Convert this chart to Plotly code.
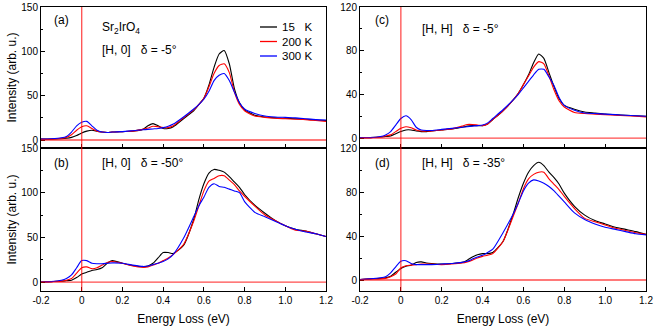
import plotly.graph_objects as go

# energy loss grid (eV), shared by all four panels
energy = [-0.2, -0.15, -0.1, -0.075, -0.05, -0.025, 0, 0.025, 0.05, 0.075,
          0.1, 0.125, 0.15, 0.2, 0.25, 0.3, 0.325, 0.35, 0.375, 0.4, 0.425,
          0.45, 0.5, 0.55, 0.575, 0.6, 0.625, 0.65, 0.675, 0.7, 0.725, 0.75,
          0.775, 0.8, 0.85, 0.9, 0.95, 1.0, 1.05, 1.1, 1.15, 1.2]

temps = ["15   K", "200 K", "300 K"]
colors = ["black", "red", "blue"]

# (a) [H, 0] delta = -5
a_15k = [1, 1, 1.5, 2, 3, 5, 8, 10, 11, 10, 9, 8.5, 9, 9.5, 10, 12, 16, 18.5,
         16, 13, 13, 15, 24, 33, 40, 47, 62, 82, 97, 101, 86, 58, 42, 34, 28,
         26, 25, 24.5, 24, 23.5, 22.5, 22]
a_200k = [1, 1, 2, 3, 6, 11, 15, 16, 13, 10, 9, 8.5, 9, 9.5, 10, 12, 13.5,
          15.5, 15, 14, 14, 16, 25, 34, 40, 47, 60, 75, 84, 86, 76, 54, 40,
          33, 27, 25.5, 24.5, 24, 23.5, 23, 22, 21]
a_300k = [1, 1.5, 2.5, 4, 9, 16, 20, 21, 16, 11, 9, 8.5, 9, 9.5, 10.5, 11.5,
          12, 12.5, 13, 14, 15.5, 18, 26, 35, 40, 46, 55, 67, 73, 75, 67, 54,
          42, 35, 30, 27, 26, 25.5, 25, 24, 23, 22.5]

# (b) [H, 0] delta = -50
b_15k = [0, 0.5, 1, 1.5, 2, 5, 9, 11, 13, 14, 16, 21, 24, 21, 18.5, 17, 18,
         21, 27, 33, 33, 32, 41, 70, 92, 110, 122, 126, 125, 123, 118, 112,
         106, 98, 86, 77, 69, 63, 59, 57, 54, 51]
b_200k = [0, 0.5, 1, 2, 4, 10, 16, 17, 15, 16, 19, 22, 23, 21, 18, 16.5, 17,
          19, 21, 24, 27, 31, 42, 68, 85, 102, 113, 116, 119, 119, 114, 109,
          102, 96, 85, 75, 69, 63, 58, 57, 54, 51]
b_300k = [0, 0.5, 2, 4, 8, 16, 24, 24, 21, 20.5, 20.5, 21, 21.5, 21, 19,
          17.5, 18, 19.5, 21, 23, 26, 31, 49, 73, 85, 95, 106, 110, 107, 106,
          104, 102, 100, 90, 78, 73, 68, 63, 59, 56, 54, 51]

# (c) [H, H] delta = -5
c_15k = [0.5, 0.5, 1, 1.5, 2, 4, 6, 7.5, 7.5, 6.5, 6, 6, 6.5, 7.5, 8.5, 10,
         11, 11.5, 11.5, 11.5, 13, 17, 25, 35, 41, 49, 58, 69, 77, 73, 60,
         47, 36, 30, 26.5, 24, 23, 22, 21.5, 21, 20.5, 20]
c_200k = [0.5, 0.5, 1, 2, 3, 6, 9, 10.5, 9.5, 7.5, 6.5, 6.5, 6.5, 7.5, 8.5,
          11, 12.5, 12.5, 12, 11.5, 13, 17, 25, 35, 41, 49, 57, 65, 70, 68,
          57, 44, 34, 28.5, 23.5, 22.5, 22, 21.5, 21, 20.5, 20, 19.5]
c_300k = [0.5, 0.5, 1.5, 3, 6, 12, 18, 20.5, 17, 10, 7.5, 7, 7, 8, 9, 10,
          10.5, 11, 11.5, 12, 14, 18, 26, 35, 40, 46, 52, 58, 63, 63, 56, 48,
          37, 30, 25.5, 23, 22.5, 22, 21.5, 21, 20.5, 20]

# (d) [H, H] delta = -35
d_15k = [0.5, 1, 1.5, 2, 3.5, 7, 10.5, 12.5, 13.5, 16, 16.5, 15.5, 15, 14.5,
         15, 16, 18, 21, 23, 24, 24, 25, 35, 60, 75, 88, 98, 104, 107, 104,
         98, 93, 87, 79, 67, 59, 54, 51, 48, 46, 44, 41.5]
d_200k = [0.5, 1, 1, 1.5, 3, 5.5, 11, 13, 13.5, 14, 14.5, 14.5, 14.5, 14,
          14.5, 15.5, 16.5, 18, 20, 21.5, 22.5, 24, 35, 58, 70, 83, 92, 96,
          98, 98, 92, 87, 82, 76, 65, 56, 53, 50, 47, 45, 43, 41.5]
d_300k = [0.5, 1, 2, 3, 6.5, 12, 17, 17.5, 15, 14, 14, 14, 14, 14.5, 15, 16,
          17, 19, 21, 22.5, 25, 28, 43, 60, 70, 81, 88, 91, 90, 88, 85, 81,
          76, 71, 61, 55, 51, 48, 46, 44, 42, 41]

panels = [
    ("x", "y", [a_15k, a_200k, a_300k]),
    ("x2", "y2", [b_15k, b_200k, b_300k]),
    ("x3", "y3", [c_15k, c_200k, c_300k]),
    ("x4", "y4", [d_15k, d_200k, d_300k]),
]

FONT = "Liberation Sans"
W, H = 654, 329


def px(x):
    return x / W


def py(y):
    return 1 - y / H


fig = go.Figure()

for xa, ya, series in panels:
    for name, col, vals in zip(temps, colors, series):
        fig.add_trace(go.Scatter(x=energy, y=vals, mode="lines", name=name,
                                 line=dict(color=col, width=1.1,
                                           shape="spline", smoothing=0.6),
                                 xaxis=xa, yaxis=ya, showlegend=False))

# red reference lines at zero energy and zero intensity
for xa, ya in [("x", "y"), ("x2", "y2"), ("x3", "y3"), ("x4", "y4")]:
    fig.add_shape(type="line", xref=xa, yref=ya + " domain", x0=0, x1=0,
                  y0=0, y1=1, line=dict(color="rgba(255,0,0,0.7)", width=1.3))
    fig.add_shape(type="line", xref=xa + " domain", yref=ya, x0=0, x1=1,
                  y0=0, y1=0, line=dict(color="rgba(255,0,0,0.7)", width=1.3))

xdom_l = [px(41), px(326)]
xdom_r = [px(360), px(646)]
ydom_t = [py(148), py(7)]
ydom_b = [py(291), py(148)]

axis_common = dict(showline=True, linecolor="black", linewidth=1,
                   mirror=True, ticks="inside", ticklen=4, tickcolor="black",
                   showgrid=False, zeroline=False, automargin=False,
                   ticklabeloverflow="allow",
                   tickfont=dict(family=FONT, size=10, color="black"))

xticks = dict(range=[-0.2, 1.2], tickvals=[-0.2, 0, 0.2, 0.4, 0.6, 0.8, 1.0, 1.2],
              ticktext=["-0.2", "0", "0.2", "0.4", "0.6", "0.8", "1.0", "1.2"])
xtitle = dict(text="Energy Loss (eV)", font=dict(family=FONT, size=12),
              standoff=9)
ytitle = dict(text="Intensity (arb. u.)", font=dict(family=FONT, size=12),
              standoff=2)

fig.update_layout(
    width=W, height=H,
    margin=dict(l=0, r=0, t=0, b=0),
    paper_bgcolor="white", plot_bgcolor="white",
    font=dict(family=FONT, size=11, color="black"),
    showlegend=False,
    xaxis=dict(domain=xdom_l, anchor="y", showticklabels=False, **xticks,
               **axis_common),
    yaxis=dict(domain=ydom_t, anchor="x", range=[-9, 150], dtick=50,
               minor=dict(dtick=25, ticks="inside", ticklen=2,
                          tickcolor="black"),
               title=ytitle, **axis_common),
    xaxis2=dict(domain=xdom_l, anchor="y2", title=xtitle, **xticks,
                **axis_common),
    yaxis2=dict(domain=ydom_b, anchor="x2", range=[-10, 150], dtick=50,
                minor=dict(dtick=25, ticks="inside", ticklen=2,
                           tickcolor="black"),
                title=ytitle, **axis_common),
    xaxis3=dict(domain=xdom_r, anchor="y3", showticklabels=False, **xticks,
                **axis_common),
    yaxis3=dict(domain=ydom_t, anchor="x3", range=[-9, 120], dtick=40,
                minor=dict(dtick=20, ticks="inside", ticklen=2,
                           tickcolor="black"),
                **axis_common),
    xaxis4=dict(domain=xdom_r, anchor="y4", title=xtitle, **xticks,
                **axis_common),
    yaxis4=dict(domain=ydom_b, anchor="x4", range=[-10, 120], dtick=40,
                minor=dict(dtick=20, ticks="inside", ticklen=2,
                           tickcolor="black"),
                **axis_common),
)

# legend key drawn inside panel (a)
for i, (name, col) in enumerate(zip(temps, colors)):
    yy = 27 + 14.5 * i
    fig.add_shape(type="line", xref="paper", yref="paper",
                  x0=px(260), x1=px(277), y0=py(yy), y1=py(yy),
                  line=dict(color=col, width=1.3))
    fig.add_annotation(x=px(280), y=py(yy), xref="paper", yref="paper",
                       text=name, showarrow=False, xanchor="left",
                       yanchor="middle",
                       font=dict(family=FONT, size=11.5, color="black"))

# panel labels and texts
labels = [
    (52, 20, "(a)"), (100, 28, "Sr<sub>2</sub>IrO<sub>4</sub>"),
    (100, 50, "[H, 0]   δ = -5°"),
    (52, 163, "(b)"), (100, 163, "[H, 0]   δ = -50°"),
    (373, 20, "(c)"), (420, 29, "[H, H]   δ = -5°"),
    (373, 163, "(d)"), (420, 163, "[H, H]   δ = -35°"),
]
for lx, ly, txt in labels:
    fig.add_annotation(x=px(lx), y=py(ly), xref="paper", yref="paper",
                       text=txt, showarrow=False, xanchor="left",
                       yanchor="middle",
                       font=dict(family=FONT, size=12, color="black"))

# drop the page's default body margin so the figure fills the window
fig.write_html("out.html", config={"displayModeBar": False},
               post_script="document.body.style.margin = '0';")
